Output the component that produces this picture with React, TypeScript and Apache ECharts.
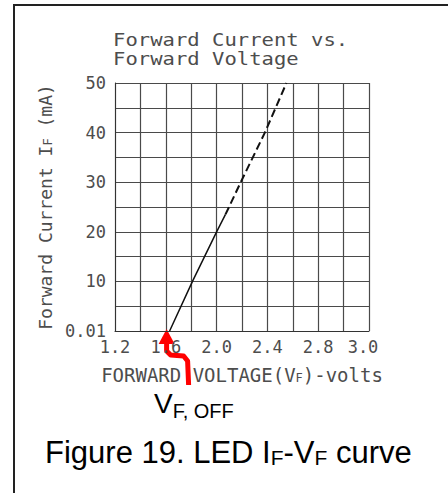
import React, { useEffect, useRef } from 'react';
import * as echarts from 'echarts';

// ---- data ----
const xTickLabels = ['1.2', '', '1.6', '', '2.0', '', '2.4', '', '2.8', '', '3.0'];
const yTickLabels = ['0.01', '', '10', '', '20', '', '30', '', '40', '', '50'];
const solidVoltage = [1.63, 1.81, 2.0, 2.07];
const solidCurrent = [0, 10, 20, 23.5];
const dashedVoltage = [2.07, 2.19, 2.38, 2.55];
const dashedCurrent = [23.5, 30, 40, 50];
const titleLines = ['Forward Current vs.', 'Forward Voltage'];
const xMin = 1.2;
const xMax = 3.2;
const xStep = 0.2;
const yMin = 0;
const yMax = 50;
const yStep = 5;

const CAD = '"DejaVu Sans Mono", monospace';
const CAD_COLOR = '#4d4d4d';
const GRID_COLOR = '#4a4a4a';
const SANS = '"Liberation Sans", Arial, sans-serif';

export default function App() {
  const ref = useRef<HTMLDivElement>(null);
  useEffect(() => {
    if (!ref.current) return;
    const chart = echarts.init(ref.current, undefined, { renderer: 'svg' });
    const option: any = {
      animation: false,
      backgroundColor: '#fff',
      grid: { left: 115, top: 83, width: 254, height: 248 },
      xAxis: {
        type: 'value',
        min: xMin,
        max: xMax,
        interval: xStep,
        name: 'FORWARD VOLTAGE(V{s|F})-volts',
        nameLocation: 'middle',
        nameGap: 34,
        nameTextStyle: {
          fontFamily: CAD,
          fontSize: 19,
          color: CAD_COLOR,
          rich: {
            s: { fontFamily: CAD, fontSize: 12, color: CAD_COLOR, padding: [6, 0, 0, 0] },
          },
        },
        axisLine: { show: true, lineStyle: { color: '#333', width: 1 } },
        axisTick: { show: false },
        splitLine: { show: true, lineStyle: { color: GRID_COLOR, width: 1.2 } },
        axisLabel: {
          showMinLabel: true,
          showMaxLabel: true,
          margin: 7,
          fontFamily: CAD,
          fontSize: 17,
          color: CAD_COLOR,
          formatter: (v: number) => {
            const i = Math.round((v - xMin) / xStep);
            const t = xTickLabels[i] ?? '';
            if (i === xTickLabels.length - 1 && t) return `{last|${t}}`;
            return t;
          },
          rich: {
            last: { fontFamily: CAD, fontSize: 17, color: CAD_COLOR, padding: [0, 12, 0, 0] },
          },
        },
      },
      yAxis: {
        type: 'value',
        min: yMin,
        max: yMax,
        interval: yStep,
        name: 'Forward Current I{s|F} (mA)',
        nameLocation: 'middle',
        nameRotate: 90,
        nameGap: 51,
        nameTextStyle: {
          fontFamily: CAD,
          fontSize: 18,
          color: CAD_COLOR,
          rich: {
            s: { fontFamily: CAD, fontSize: 12, color: CAD_COLOR, padding: [6, 0, 0, 0] },
          },
        },
        axisLine: { show: true, lineStyle: { color: '#333', width: 1 } },
        axisTick: { show: false },
        splitLine: { show: true, lineStyle: { color: GRID_COLOR, width: 1.2 } },
        axisLabel: {
          showMinLabel: true,
          showMaxLabel: true,
          margin: 9,
          fontFamily: CAD,
          fontSize: 17,
          color: CAD_COLOR,
          formatter: (v: number) => yTickLabels[Math.round((v - yMin) / yStep)] ?? '',
        },
      },
      series: [
        {
          type: 'line',
          data: solidVoltage.map((x, i) => [x, solidCurrent[i]]),
          showSymbol: false,
          symbol: 'none',
          lineStyle: { color: '#111', width: 1.5, type: 'solid' },
        },
        {
          type: 'line',
          data: dashedVoltage.map((x, i) => [x, dashedCurrent[i]]),
          showSymbol: false,
          symbol: 'none',
          lineStyle: { color: '#111', width: 2, type: [8, 4] },
        },
      ],
    };
    chart.setOption(option);

    const p = chart.convertToPixel({ gridIndex: 0 }, [solidVoltage[0], solidCurrent[0]]) as number[];
    const tx = p[0] - 3;
    const ty = p[1] - 2;

    chart.setOption({
      graphic: [
        {
          type: 'rect',
          shape: { x: 14, y: 5, width: 600, height: 700 },
          style: { fill: 'none', stroke: '#222', lineWidth: 2 },
          silent: true,
        },
        {
          type: 'text',
          x: 113,
          y: 30,
          scaleX: 1.21,
          style: {
            text: titleLines.join('\n'),
            font: `17px ${CAD}`,
            fill: CAD_COLOR,
            lineHeight: 19,
            textAlign: 'left',
            textVerticalAlign: 'top',
          },
        },
        {
          type: 'polyline',
          shape: {
            points: [
              [tx, ty + 12],
              [tx, ty + 22],
              [tx + 4, ty + 26],
              [tx + 17, ty + 27],
              [tx + 21, ty + 32],
              [tx + 22, ty + 56],
            ],
          },
          style: { stroke: '#ff0000', lineWidth: 5, fill: 'none', lineJoin: 'round', lineCap: 'butt' },
        },
        {
          type: 'polygon',
          shape: {
            points: [
              [tx, ty],
              [tx - 8, ty + 15],
              [tx + 8, ty + 15],
            ],
          },
          style: { fill: '#ff0000' },
        },
        {
          type: 'text',
          x: 154,
          y: 421,
          style: {
            text: '{m|V}{s|F, OFF}',
            textAlign: 'left',
            textVerticalAlign: 'bottom',
            rich: {
              m: { fontFamily: SANS, fontSize: 28, lineHeight: 28, padding: [0, 0, 4, 0], verticalAlign: 'bottom', color: '#000' },
              s: { fontFamily: SANS, fontSize: 20, lineHeight: 20, verticalAlign: 'bottom', color: '#000' },
            },
          },
        },
        {
          type: 'text',
          x: 45,
          y: 468,
          style: {
            text: '{m|Figure 19. LED I}{s|F}{m|-V}{s|F}{m| curve}',
            textAlign: 'left',
            textVerticalAlign: 'bottom',
            rich: {
              m: { fontFamily: SANS, fontSize: 31, lineHeight: 31, verticalAlign: 'bottom', color: '#000' },
              s: { fontFamily: SANS, fontSize: 21, lineHeight: 21, verticalAlign: 'bottom', color: '#000' },
            },
          },
        },
      ],
    });

    return () => chart.dispose();
  }, []);
  return (
    <div
      ref={ref}
      style={{ position: 'fixed', left: 0, top: 0, width: 448, height: 493, background: '#fff' }}
    />
  );
}
